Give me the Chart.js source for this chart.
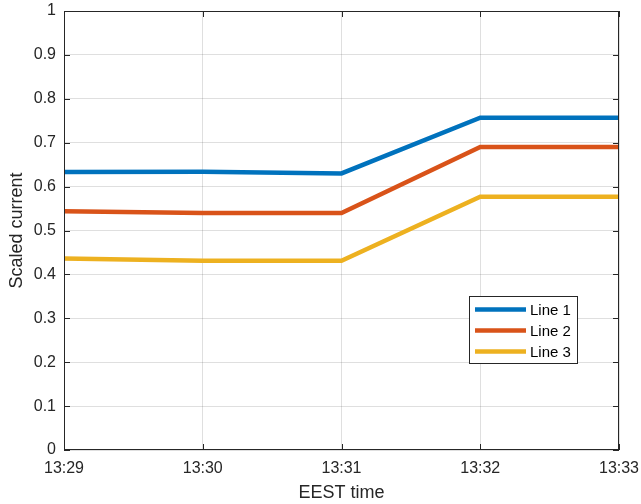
<!DOCTYPE html>
<html lang="en">
<head>
<meta charset="UTF-8">
<title>Scaled current</title>
<style>
body {margin:0; background:#fff;}
#wrap {width:641px; height:504px; position:relative;}
</style>
</head>
<body>
<div id="wrap"><canvas id="chart"></canvas></div>
<script src="https://cdn.jsdelivr.net/npm/chart.js"></script>
<script>
// data
const times = ['13:29', '13:30', '13:31', '13:32', '13:33'];
const line1 = [0.633, 0.634, 0.630, 0.757, 0.757];
const line2 = [0.544, 0.540, 0.540, 0.690, 0.690];
const line3 = [0.436, 0.431, 0.431, 0.577, 0.577];
const seriesNames = ['Line 1', 'Line 2', 'Line 3'];
const seriesColors = ['#0072BD', '#D95319', '#EDB120'];

const axisColor = '#262626';
const gridColor = 'rgba(38,38,38,0.15)';
const fontFam = '"Liberation Sans", Arial, sans-serif';

// box + inward ticks + legend, like matlab
const boxPlugin = {
  id: 'boxPlugin',
  afterDraw(chart) {
    const {ctx, chartArea: a, scales} = chart;
    ctx.save();
    ctx.strokeStyle = axisColor;
    ctx.lineWidth = 1;
    ctx.strokeRect(a.left + 0.5, a.top + 0.5, a.right - a.left - 1, a.bottom - a.top - 1);
    const tl = 6;
    ctx.beginPath();
    scales.x.ticks.forEach((t, i) => {
      const x = Math.round(scales.x.getPixelForTick(i)) + 0.5;
      ctx.moveTo(x, a.bottom); ctx.lineTo(x, a.bottom - tl);
      ctx.moveTo(x, a.top); ctx.lineTo(x, a.top + tl);
    });
    scales.y.ticks.forEach((t, i) => {
      const y = Math.round(scales.y.getPixelForTick(i)) + 0.5;
      ctx.moveTo(a.left, y); ctx.lineTo(a.left + tl, y);
      ctx.moveTo(a.right, y); ctx.lineTo(a.right - tl, y);
    });
    ctx.stroke();

    // legend
    const lx = 469, ly = 296, lw = 108, lh = 67;
    ctx.fillStyle = '#fff';
    ctx.fillRect(lx, ly, lw, lh);
    ctx.strokeStyle = axisColor;
    ctx.lineWidth = 1;
    ctx.strokeRect(lx + 0.5, ly + 0.5, lw, lh);
    ctx.font = '15px ' + fontFam;
    ctx.textBaseline = 'middle';
    chart.data.datasets.forEach((ds, i) => {
      const y = ly + 13.5 + i * 21;
      ctx.strokeStyle = ds.borderColor;
      ctx.lineWidth = 4.5;
      ctx.beginPath();
      ctx.moveTo(lx + 6, y); ctx.lineTo(lx + 57, y);
      ctx.stroke();
      ctx.fillStyle = '#000';
      ctx.fillText(ds.label, lx + 61, y + 1);
    });
    ctx.restore();
  }
};

const series = [line1, line2, line3];
new Chart(document.getElementById('chart'), {
  type: 'line',
  data: {
    labels: times,
    datasets: series.map((d, i) => ({
      label: seriesNames[i], data: d, borderColor: seriesColors[i],
      backgroundColor: seriesColors[i], borderWidth: 4.5, pointRadius: 0, tension: 0
    }))
  },
  options: {
    responsive: true, maintainAspectRatio: false, animation: false,
    layout: {padding: {top: 11, right: 22, left: 0, bottom: 0}},
    plugins: {legend: {display: false}, tooltip: {enabled: false}},
    scales: {
      x: {
        type: 'category', offset: false,
        border: {display: false},
        grid: {color: gridColor, drawTicks: false},
        ticks: {color: axisColor, padding: 9, maxRotation: 0, font: {family: fontFam, size: 16}},
        title: {display: true, text: 'EEST time', color: axisColor, padding: {top: 0, bottom: 0}, font: {family: fontFam, size: 18}},
        afterFit(s) { s.height = 54; s.paddingLeft = 0; s.paddingRight = 0; }
      },
      y: {
        min: 0, max: 1,
        border: {display: false},
        grid: {color: gridColor, drawTicks: false},
        ticks: {stepSize: 0.1, color: axisColor, padding: 8, font: {family: fontFam, size: 16},
          callback: v => Math.round(v * 10) / 10},
        title: {display: true, text: 'Scaled current', color: axisColor, padding: {top: 6, bottom: 0}, font: {family: fontFam, size: 18}},
        afterFit(s) { s.width = 64; s.paddingTop = 0; s.paddingBottom = 0; }
      }
    }
  },
  plugins: [boxPlugin]
});
</script>
</body>
</html>
